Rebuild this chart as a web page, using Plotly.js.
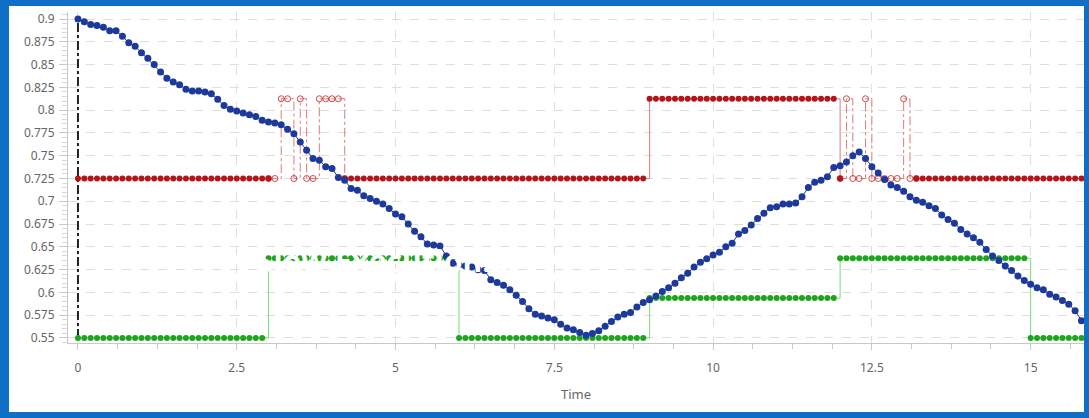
<!DOCTYPE html>
<html>
<head>
<meta charset="utf-8">
<script src="https://cdn.plot.ly/plotly-3.0.1.min.js"></script>
<style>
  html, body { margin: 0; padding: 0; }
  body { width: 1089px; height: 418px; background: #0f6ec5; position: relative; overflow: hidden; }
  #chart { position: absolute; left: 9px; top: 6px; width: 1075px; height: 406px; background: #fff; }
</style>
</head>
<body>
<div id="chart"></div>
<script>
// ---- data ----
const sampleStep = 0.1;          // sampling interval of the recorded signals
const lastTime = 15.8;

const blueValues = [
  0.900, 0.897, 0.894, 0.893, 0.891, 0.887, 0.887, 0.881, 0.874, 0.870,
  0.863, 0.857, 0.850, 0.842, 0.835, 0.831, 0.828, 0.823, 0.821, 0.821,
  0.820, 0.818, 0.812, 0.805, 0.801, 0.799, 0.797, 0.795, 0.793, 0.789,
  0.787, 0.786, 0.784, 0.779, 0.774, 0.765, 0.756, 0.747, 0.745, 0.738,
  0.736, 0.726, 0.723, 0.714, 0.712, 0.706, 0.703, 0.700, 0.697, 0.692,
  0.686, 0.683, 0.675, 0.667, 0.661, 0.653, 0.652, 0.651, 0.640, 0.632,
  0.630, 0.629, 0.628, 0.625, 0.624, 0.614, 0.611, 0.608, 0.603, 0.597,
  0.590, 0.582, 0.576, 0.574, 0.572, 0.570, 0.565, 0.561, 0.559, 0.556,
  0.553, 0.555, 0.558, 0.563, 0.568, 0.573, 0.576, 0.578, 0.584, 0.589,
  0.592, 0.596, 0.601, 0.605, 0.610, 0.616, 0.621, 0.628, 0.633, 0.637,
  0.641, 0.644, 0.650, 0.654, 0.664, 0.668, 0.674, 0.681, 0.687, 0.693,
  0.694, 0.697, 0.697, 0.698, 0.705, 0.715, 0.721, 0.723, 0.727, 0.737,
  0.739, 0.743, 0.750, 0.754, 0.747, 0.738, 0.731, 0.724, 0.718, 0.715,
  0.711, 0.705, 0.701, 0.699, 0.695, 0.692, 0.685, 0.680, 0.676, 0.669,
  0.664, 0.660, 0.655, 0.647, 0.640, 0.635, 0.629, 0.624, 0.618, 0.613,
  0.609, 0.605, 0.603, 0.598, 0.595, 0.591, 0.587, 0.580, 0.569
];

// red state: [start time, level]; gaps = uncertain (chattering) intervals
const redSteps = [[0, 0.725], [9.0, 0.8125], [12.0, 0.725]];
const redGaps = [[3.05, 4.15], [12.05, 13.15]];
// chattering (open markers, dash-dot)
const redChatter1Time = [3.0, 3.1, 3.2, 3.3, 3.4, 3.5, 3.6, 3.7, 3.8, 3.9, 4.0, 4.1, 4.2];
const redChatter1Vals = [0.725, 0.725, 0.8125, 0.8125, 0.725, 0.8125, 0.725, 0.725, 0.8125, 0.8125, 0.8125, 0.8125, 0.725];
const redChatter2Time = [12.0, 12.1, 12.2, 12.3, 12.4, 12.5, 12.6, 12.7, 12.8, 12.9, 13.0, 13.1, 13.2];
const redChatter2Vals = [0.725, 0.8125, 0.725, 0.725, 0.8125, 0.725, 0.725, 0.725, 0.725, 0.725, 0.8125, 0.725, 0.725];

// green state: [start time, level]
const greenSteps = [[0, 0.55], [3.0, 0.6375], [6.0, 0.55], [9.0, 0.59375], [12.0, 0.6375], [15.0, 0.55]];

const markerLineX = [0, 0];
const markerLineY = [0.55, 0.9];

const xTickVals = [0, 2.5, 5, 7.5, 10, 12.5, 15];
const xTickText = ['0', '2.5', '5', '7.5', '10', '12.5', '15'];
const yTickVals = [0.55, 0.575, 0.6, 0.625, 0.65, 0.675, 0.7, 0.725, 0.75, 0.775, 0.8, 0.825, 0.85, 0.875, 0.9];
const yTickText = ['0.55', '0.575', '0.6', '0.625', '0.65', '0.675', '0.7', '0.725', '0.75', '0.775', '0.8', '0.825', '0.85', '0.875', '0.9'];
const overlayText = 'Slow Execution...';

// ---- build sampled series ----
const nSamples = Math.round(lastTime / sampleStep) + 1;
const time = [];
for (let i = 0; i < nSamples; i++) time.push(+(i * sampleStep).toFixed(1));

function levelAt(steps, t) {
  let v = steps[0][1];
  for (const s of steps) if (t >= s[0] - 1e-9) v = s[1];
  return v;
}
const redVals = time.map(t => redGaps.some(g => t > g[0] && t < g[1]) ? null : levelAt(redSteps, t));
const greenVals = time.map(t => levelAt(greenSteps, t));

const RED = '#b3151b', RED_LINE = '#e07a7a';
const GREEN = '#1ea51e', GREEN_LINE = '#77dd77';
const BLUE = '#1d399c';

const traces = [
  { x: markerLineX, y: markerLineY, mode: 'lines', line: { color: '#222', width: 2, dash: 'dashdot' }, hoverinfo: 'skip' },
  { x: time, y: greenVals, mode: 'lines+markers', line: { color: GREEN_LINE, width: 1, shape: 'hv' },
    marker: { color: GREEN, size: 6 } },
  { x: redChatter1Time, y: redChatter1Vals, mode: 'lines+markers', line: { color: RED_LINE, width: 1, dash: 'dashdot', shape: 'hv' },
    marker: { symbol: 'circle-open', color: '#d04848', size: 6, line: { width: 1 } } },
  { x: redChatter2Time, y: redChatter2Vals, mode: 'lines+markers', line: { color: RED_LINE, width: 1, dash: 'dashdot', shape: 'hv' },
    marker: { symbol: 'circle-open', color: '#d04848', size: 6, line: { width: 1 } } },
  { x: time, y: redVals, mode: 'lines+markers', connectgaps: false, line: { color: RED_LINE, width: 1, shape: 'hv' },
    marker: { color: RED, size: 6 } },
  { x: time, y: blueValues, mode: 'lines+markers', line: { color: BLUE, width: 1 },
    marker: { color: BLUE, size: 7 } }
];

const axisFont = { family: 'Noto Sans, Open Sans, sans-serif', size: 12, color: '#666' };

const layout = {
  width: 1075, height: 406,
  margin: { l: 59, r: 0, t: 6, b: 69 },
  paper_bgcolor: '#fff', plot_bgcolor: '#fff',
  showlegend: false,
  xaxis: {
    range: [-0.157, 15.84],
    tickmode: 'array', tickvals: xTickVals, ticktext: xTickText,
    ticks: 'outside', ticklen: 6, tickcolor: '#c8c8c8',
    minor: { dtick: 0.625, tick0: 0, ticks: 'outside', ticklen: 5, tickcolor: '#c8c8c8', showgrid: false },
    showline: true, linecolor: '#c8c8c8', linewidth: 1,
    showgrid: true, gridcolor: '#dedede', griddash: 'dash', zeroline: false,
    tickfont: axisFont, ticklabelstandoff: 8,
    title: { text: 'Time', font: { family: 'Noto Sans, Open Sans, sans-serif', size: 13, color: '#666' }, standoff: 14 }
  },
  yaxis: {
    range: [0.5445, 0.9077],
    tickmode: 'array', tickvals: yTickVals, ticktext: yTickText,
    ticks: 'outside', ticklen: 8, tickcolor: '#c8c8c8',
    minor: { dtick: 0.005, tick0: 0.55, ticks: 'outside', ticklen: 5, tickcolor: '#d8d8d8', showgrid: false },
    showline: true, linecolor: '#c8c8c8', linewidth: 1,
    showgrid: true, gridcolor: '#dedede', griddash: 'dash', zeroline: false,
    tickfont: axisFont, ticklabelstandoff: 2
  },
  annotations: [{
    x: 4.8, y: 0.6345, xref: 'x', yref: 'y', text: overlayText, showarrow: false,
    font: { family: 'Open Sans, sans-serif', size: 30, color: '#ffffff', weight: 700 }
  }]
};

Plotly.newPlot('chart', traces, layout, { displayModeBar: false, staticPlot: true });
</script>
</body>
</html>
